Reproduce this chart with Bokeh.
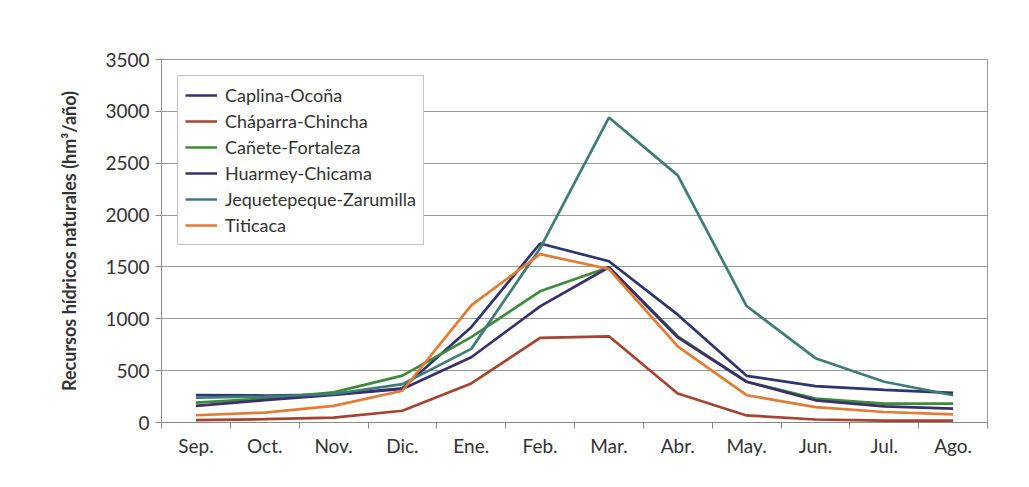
from bokeh.plotting import figure
from bokeh.models import FixedTicker, Legend, LegendItem, Range1d
from bokeh.embed import file_html
from bokeh.resources import INLINE

months = ["Sep.", "Oct.", "Nov.", "Dic.", "Ene.", "Feb.", "Mar.", "Abr.", "May.", "Jun.", "Jul.", "Ago."]

caplina_ocona = [265, 260, 270, 330, 919, 1726, 1555, 1040, 450, 350, 315, 285]
chaparra_chincha = [22, 32, 47, 113, 377, 816, 831, 279, 68, 29, 19, 19]
canete_fortaleza = [192, 230, 290, 452, 823, 1265, 1497, 831, 393, 231, 182, 182]
huarmey_chicama = [160, 215, 265, 323, 629, 1119, 1497, 820, 393, 214, 156, 133]
jequetepeque_zarumilla = [240, 250, 275, 370, 710, 1680, 2940, 2383, 1123, 620, 393, 263]
titicaca = [70, 96, 160, 306, 1129, 1623, 1480, 734, 263, 149, 101, 78]

series_names = ["Caplina-Ocoña", "Cháparra-Chincha", "Cañete-Fortaleza",
                "Huarmey-Chicama", "Jequetepeque-Zarumilla", "Titicaca"]
series_values = [caplina_ocona, chaparra_chincha, canete_fortaleza,
                 huarmey_chicama, jequetepeque_zarumilla, titicaca]
colors = ["#2c3570", "#a8432f", "#3f8a3a", "#3b2e6c", "#3e7c78", "#e37b32"]

y_ticks = [0, 500, 1000, 1500, 2000, 2500, 3000, 3500]

FONT = "Lato"

p = figure(width=1012, height=470, output_backend="svg", toolbar_location=None,
           x_range=Range1d(0, 12), y_range=Range1d(0, 3500),
           min_border_left=161, min_border_right=25, min_border_top=59, min_border_bottom=48)
p.outline_line_color = "#9a9a9a"
p.outline_line_width = 1

xs = [i + 0.5 for i in range(len(months))]
items = []
for name, vals, col in zip(series_names, series_values, colors):
    r = p.line(xs, vals, line_color=col, line_width=2.7)
    items.append(LegendItem(label=name, renderers=[r]))

# x axis
p.xaxis.ticker = FixedTicker(ticks=xs, minor_ticks=list(range(13)))
p.xaxis.major_label_overrides = {x: m for x, m in zip(xs, months)}
p.xaxis.major_tick_out = 0
p.xaxis.major_tick_in = 0
p.xaxis.minor_tick_out = 6
p.xaxis.minor_tick_in = 0
p.xaxis.minor_tick_line_color = "#8a8a8a"
p.xaxis.axis_line_color = "#8a8a8a"
p.xaxis.major_label_text_font = FONT
p.xaxis.major_label_text_font_size = "19px"
p.xaxis.major_label_text_color = "#333333"
p.xaxis.major_label_standoff = 5
p.xgrid.grid_line_color = None

# y axis
p.yaxis.ticker = FixedTicker(ticks=y_ticks)
p.yaxis.major_tick_out = 6
p.yaxis.major_tick_in = 0
p.yaxis.minor_tick_line_color = None
p.yaxis.major_tick_line_color = "#8a8a8a"
p.yaxis.axis_line_color = "#8a8a8a"
p.yaxis.major_label_text_font = FONT
p.yaxis.major_label_text_font_size = "19px"
p.yaxis.major_label_text_color = "#333333"
p.yaxis.major_label_standoff = 6
p.yaxis.axis_label = "Recursos hídricos naturales (hm³/año)"
p.yaxis.axis_label_text_font = FONT
p.yaxis.axis_label_text_font_style = "bold"
p.yaxis.axis_label_text_font_size = "18px"
p.yaxis.axis_label_text_color = "#333333"
p.yaxis.axis_label_standoff = 22
p.ygrid.grid_line_color = "#9a9a9a"
p.ygrid.grid_line_width = 1

legend = Legend(items=items)
legend.margin = 0
legend.padding = 7
legend.spacing = 2
legend.label_text_font = FONT
legend.label_text_font_size = "18px"
legend.label_text_color = "#333333"
legend.label_height = 24
legend.glyph_height = 24
legend.glyph_width = 32
legend.label_standoff = 8
legend.border_line_color = "#8a8a8a"
legend.border_line_width = 1
legend.background_fill_alpha = 1
p.add_layout(legend, "center")
legend.location = (16, 177)

open("out.html", "w").write(file_html(p, INLINE))
